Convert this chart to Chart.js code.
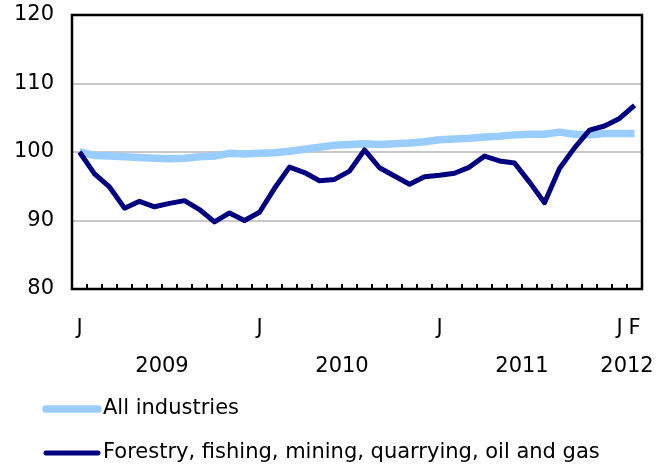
<!DOCTYPE html>
<html>
<head>
<meta charset="utf-8">
<script src="https://cdn.jsdelivr.net/npm/chart.js@4"></script>
<style>
  html, body { margin: 0; padding: 0; background: #fff; }
  #wrap { width: 670px; height: 468px; }
</style>
</head>
<body>
<div id="wrap"><canvas id="chart"></canvas></div>
<script>
const months = [
  'Jan 2009','Feb 2009','Mar 2009','Apr 2009','May 2009','Jun 2009','Jul 2009','Aug 2009','Sep 2009','Oct 2009','Nov 2009','Dec 2009',
  'Jan 2010','Feb 2010','Mar 2010','Apr 2010','May 2010','Jun 2010','Jul 2010','Aug 2010','Sep 2010','Oct 2010','Nov 2010','Dec 2010',
  'Jan 2011','Feb 2011','Mar 2011','Apr 2011','May 2011','Jun 2011','Jul 2011','Aug 2011','Sep 2011','Oct 2011','Nov 2011','Dec 2011',
  'Jan 2012','Feb 2012'
];
const tickLabels = [
  'J','','','','','','','','','','','',
  'J','','','','','','','','','','','',
  'J','','','','','','','','','','','',
  'J','F'
];
const years = ['2009', '2010', '2011', '2012'];
const yearFirst = [0, 12, 24, 36];
const yearLast = [11, 23, 35, 37];

const allIndustries = [
  100.0, 99.5, 99.4, 99.3, 99.2, 99.1, 99.0, 99.1, 99.3, 99.4, 99.8, 99.7,
  99.8, 99.9, 100.1, 100.4, 100.7, 101.0, 101.1, 101.2, 101.1, 101.2, 101.3, 101.5,
  101.8, 101.9, 102.0, 102.2, 102.3, 102.5, 102.6, 102.6, 102.9, 102.6, 102.5, 102.7,
  102.7, 102.7
];
const forestry = [
  100.0, 96.8, 94.9, 91.8, 92.8, 92.0, 92.5, 92.9, 91.6, 89.8, 91.1, 90.0,
  91.2, 94.7, 97.8, 97.0, 95.8, 96.0, 97.2, 100.3, 97.7, 96.5, 95.3, 96.4,
  96.6, 96.9, 97.8, 99.4, 98.7, 98.4, 95.6, 92.6, 97.6, 100.6, 103.2, 103.8,
  104.9, 106.8
];
const yTicks = [80, 90, 100, 110, 120];

const FONT = '"DejaVu Sans", Verdana, sans-serif';
const FONT_SIZE = 21;

const framePlugin = {
  id: 'frame',
  afterDatasetsDraw(chart) {
    const { ctx, chartArea: a, scales: { x } } = chart;
    ctx.save();
    // plot box
    ctx.strokeStyle = '#000';
    ctx.lineWidth = 2.5;
    ctx.strokeRect(a.left, a.top, a.right - a.left, a.bottom - a.top);
    // small ticks between months, pointing up
    ctx.lineWidth = 2;
    for (let i = 0; i < months.length - 1; i++) {
      const tx = Math.round((x.getPixelForValue(i) + x.getPixelForValue(i + 1)) / 2);
      ctx.beginPath();
      ctx.moveTo(tx, a.bottom);
      ctx.lineTo(tx, a.bottom - 5);
      ctx.stroke();
    }
    // year row
    ctx.fillStyle = '#000';
    ctx.font = FONT_SIZE + 'px ' + FONT;
    ctx.textAlign = 'center';
    ctx.textBaseline = 'middle';
    years.forEach((yr, i) => {
      const cx = (x.getPixelForValue(yearFirst[i]) + x.getPixelForValue(yearLast[i])) / 2;
      ctx.fillText(yr, cx, a.bottom + 78);
    });
    // legend
    ctx.textAlign = 'left';
    chart.data.datasets.forEach((ds, i) => {
      const ly = a.bottom + 120 + i * 44;
      ctx.strokeStyle = ds.borderColor;
      ctx.lineWidth = ds.borderWidth;
      ctx.lineCap = 'round';
      ctx.beginPath();
      ctx.moveTo(46, ly);
      ctx.lineTo(98, ly);
      ctx.stroke();
      ctx.fillText(ds.label, 103, ly);
    });
    ctx.restore();
  }
};

new Chart(document.getElementById('chart'), {
  type: 'line',
  data: {
    labels: months,
    datasets: [
      {
        label: 'All industries',
        data: allIndustries,
        borderColor: '#99ccff',
        borderWidth: 7.5,
        pointRadius: 0,
        tension: 0,
        borderJoinStyle: 'round',
        order: 2
      },
      {
        label: 'Forestry, fishing, mining, quarrying, oil and gas',
        data: forestry,
        borderColor: '#000080',
        borderWidth: 5,
        pointRadius: 0,
        tension: 0,
        borderJoinStyle: 'round',
        order: 1
      }
    ]
  },
  options: {
    responsive: true,
    maintainAspectRatio: false,
    animation: false,
    layout: { padding: { top: 15, right: 28, left: 0, bottom: 0 } },
    plugins: { legend: { display: false }, tooltip: { enabled: false } },
    scales: {
      x: {
        offset: true,
        grid: { display: false },
        border: { display: false },
        ticks: {
          autoSkip: false,
          maxRotation: 0,
          padding: 19,
          color: '#000',
          font: { family: FONT, size: FONT_SIZE },
          callback: (v, i) => tickLabels[i]
        },
        afterFit: s => { s.height = 179; }
      },
      y: {
        min: 80,
        max: 120,
        afterBuildTicks: s => { s.ticks = yTicks.map(v => ({ value: v })); },
        grid: {
          color: c => (c.tick.value === 80 || c.tick.value === 120) ? 'rgba(0,0,0,0)' : '#c8c8c8',
          lineWidth: 2,
          drawTicks: false
        },
        border: { display: false },
        ticks: {
          padding: 18,
          color: '#000',
          font: { family: FONT, size: FONT_SIZE }
        },
        afterFit: s => { s.width = 72; s.paddingTop = 0; s.paddingBottom = 0; }
      }
    }
  },
  plugins: [framePlugin]
});
</script>
</body>
</html>
